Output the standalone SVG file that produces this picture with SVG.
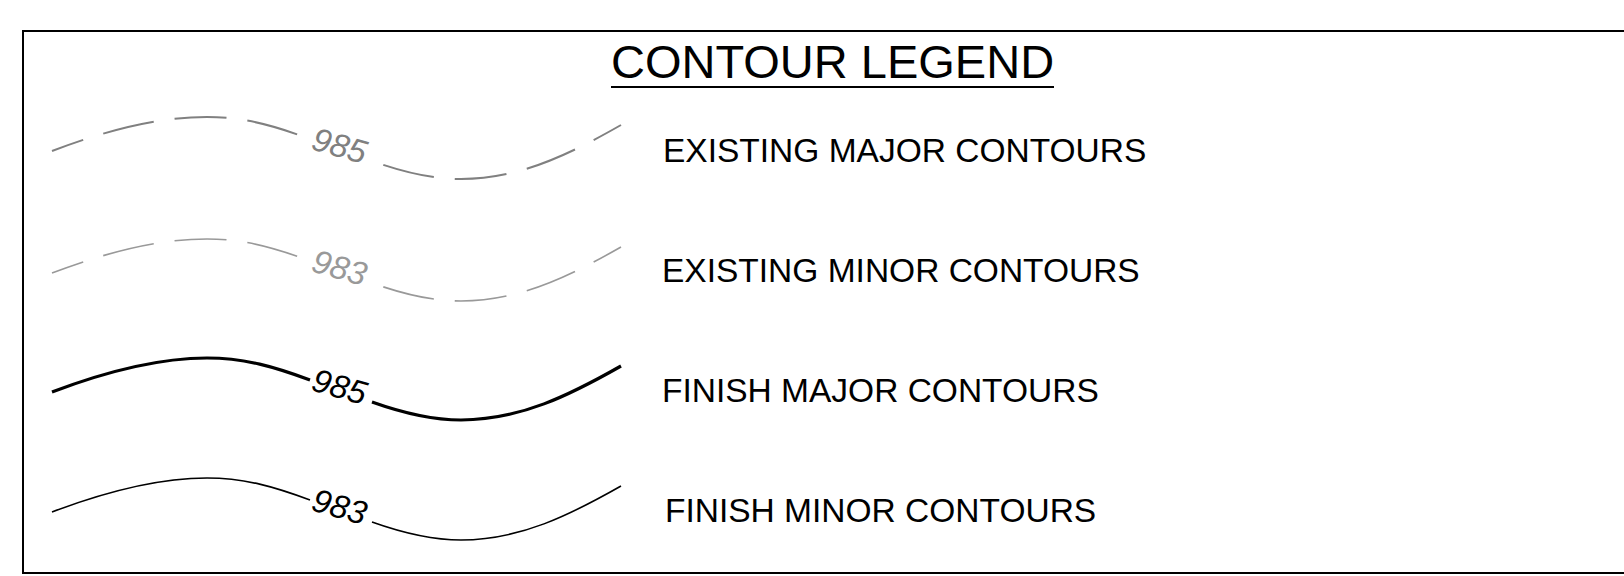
<svg xmlns="http://www.w3.org/2000/svg" width="1624" height="576" viewBox="0 0 1624 576">
<defs>
<style>
.lbl{font-family:"Liberation Sans",Arial,sans-serif;font-size:33.5px;fill:#000}
.num{font-family:"Liberation Sans",Arial,sans-serif;font-size:33px;font-style:italic}
.exmaj{fill:none;stroke:#808080;stroke-width:2;stroke-dasharray:52 21}
.exmin{fill:none;stroke:#999;stroke-width:1.6;stroke-dasharray:52 21}
.dl{stroke-dashoffset:19}
.dr{stroke-dashoffset:61}
.fmaj{fill:none;stroke:#000;stroke-width:3.2}
.fmin{fill:none;stroke:#000;stroke-width:1.6}
</style>
<path id="cL" d="M52,0 C110,-22 160,-34 207,-34 C245,-34 275,-25 310,-12"/>
<path id="cR" d="M372,10 C400,20 430,28 461,28 C520,28 570,3 621,-26"/>
</defs>
<rect x="23" y="31" width="1640" height="542" fill="#fff" stroke="#000" stroke-width="2"/>
<g id="title">
<text x="611" y="78" font-family="Liberation Sans, Arial, sans-serif" font-size="47">CONTOUR LEGEND</text>
<line x1="611" y1="87" x2="1054" y2="87" stroke="#000" stroke-width="2"/>
</g>
<g id="connectors">
<use href="#cL" class="exmaj dl" transform="translate(0,151)"/>
<use href="#cR" class="exmaj dr" transform="translate(0,151)"/>
<use href="#cL" class="exmin dl" transform="translate(0,273)"/>
<use href="#cR" class="exmin dr" transform="translate(0,273)"/>
<use href="#cL" class="fmaj" transform="translate(0,392)"/>
<use href="#cR" class="fmaj" transform="translate(0,392)"/>
<use href="#cL" class="fmin" transform="translate(0,512)"/>
<use href="#cR" class="fmin" transform="translate(0,512)"/>
</g>
<g id="existing-major" transform="translate(0,151)">
<text class="num" fill="#808080" transform="translate(310,-2) rotate(16)">985</text>
<text class="lbl" x="663" y="11">EXISTING MAJOR CONTOURS</text>
</g>
<g id="existing-minor" transform="translate(0,273)">
<text class="num" fill="#999" transform="translate(310,-2) rotate(16)">983</text>
<text class="lbl" x="662" y="9">EXISTING MINOR CONTOURS</text>
</g>
<g id="finish-major" transform="translate(0,392)">
<text class="num" fill="#000" transform="translate(310,-2) rotate(16)">985</text>
<text class="lbl" x="662" y="10">FINISH MAJOR CONTOURS</text>
</g>
<g id="finish-minor" transform="translate(0,512)">
<text class="num" fill="#000" transform="translate(310,-2) rotate(16)">983</text>
<text class="lbl" x="665" y="10">FINISH MINOR CONTOURS</text>
</g>
</svg>
